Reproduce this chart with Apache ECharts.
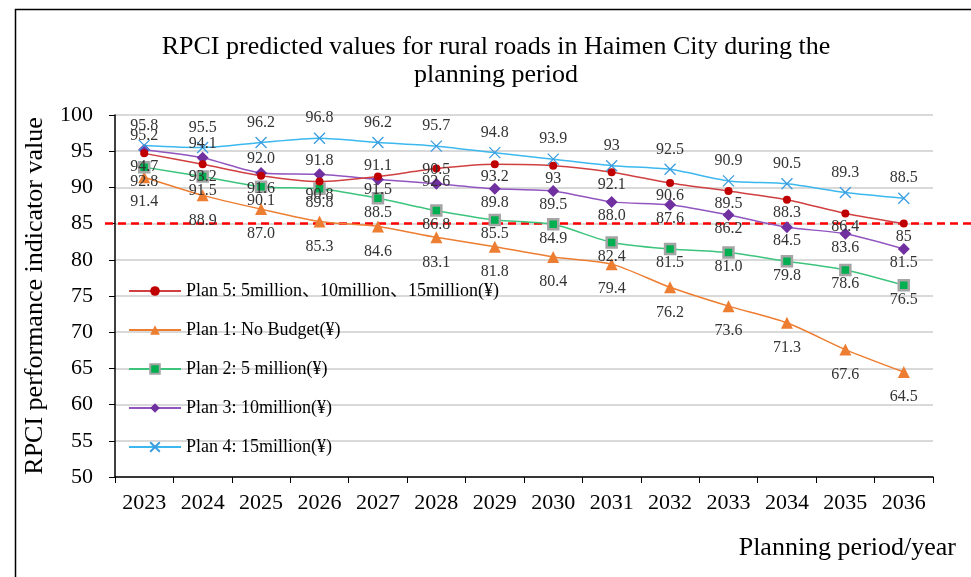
<!DOCTYPE html>
<html>
<head>
<meta charset="utf-8">
<script src="https://cdn.jsdelivr.net/npm/echarts@6/dist/echarts.min.js"></script>
<style>
  html, body { margin: 0; padding: 0; background: #fff; }
  #main { width: 971px; height: 577px; }
</style>
</head>
<body>
<div id="main"></div>
<script>
const years = ['2023', '2024', '2025', '2026', '2027', '2028', '2029', '2030', '2031', '2032', '2033', '2034', '2035', '2036'];
const plan5 = [94.7, 93.2, 91.6, 90.8, 91.5, 92.6, 93.2, 93, 92.1, 90.6, 89.5, 88.3, 86.4, 85];
const plan1 = [91.4, 88.9, 87.0, 85.3, 84.6, 83.1, 81.8, 80.4, 79.4, 76.2, 73.6, 71.3, 67.6, 64.5];
const plan2 = [92.8, 91.5, 90.1, 89.8, 88.5, 86.8, 85.5, 84.9, 82.4, 81.5, 81.0, 79.8, 78.6, 76.5];
const plan3 = [95.2, 94.1, 92.0, 91.8, 91.1, 90.5, 89.8, 89.5, 88.0, 87.6, 86.2, 84.5, 83.6, 81.5];
const plan4 = [95.8, 95.5, 96.2, 96.8, 96.2, 95.7, 94.8, 93.9, 93, 92.5, 90.9, 90.5, 89.3, 88.5];
const threshold = 85;
const yTicks = [50, 100, 5];

const serif = '"Liberation Serif", "DejaVu Serif", serif';
const serifCjk = '"Liberation Serif", "Noto Sans CJK SC", serif';
const chart = echarts.init(document.getElementById('main'));

// plans 1-3 were labelled with a fixed decimal, plans 4 and 5 as plain numbers
const fixed1 = (p) => Number(p.value).toFixed(1);
const plain = (p) => String(p.value);

const labelStyle = (position, distance, formatter) => ({
    show: true,
    position: position,
    distance: distance,
    formatter: formatter,
    fontFamily: serif,
    fontSize: 16,
    color: '#333'
});

const lineSeries = (name, data, color, symbol, size, label, extra) => Object.assign({
    name: name,
    type: 'line',
    data: data,
    smooth: 0.25,
    symbol: symbol,
    symbolSize: size,
    lineStyle: { color: color, width: 1.5 },
    itemStyle: { color: color },
    label: label,
    labelLayout: { hideOverlap: false }
}, extra || {});

const option = {
    animation: false,
    title: [
        {
            text: 'RPCI predicted values for rural roads in Haimen City during the\nplanning period',
            left: 491,
            textAlign: 'center',
            top: 28,
            textStyle: { fontFamily: serif, fontSize: 26, fontWeight: 'normal', color: '#000', lineHeight: 28 }
        },
        {
            text: 'Planning period/year',
            right: 10,
            top: 530,
            textStyle: { fontFamily: serif, fontSize: 26, fontWeight: 'normal', color: '#000' }
        }
    ],
    graphic: [
        {
            type: 'rect',
            left: 13, top: 7,
            shape: { width: 1000, height: 600 },
            style: { fill: 'none', stroke: '#000', lineWidth: 1.5 },
            silent: true
        }
    ],
    legend: {
        orient: 'vertical',
        left: 123,
        top: 277,
        itemWidth: 52,
        itemHeight: 12,
        itemGap: 21,
        data: ['Plan 5: 5million、10million、15million(¥)', 'Plan 1: No Budget(¥)', 'Plan 2: 5 million(¥)', 'Plan 3: 10million(¥)', 'Plan 4: 15million(¥)'],
        textStyle: { fontFamily: serifCjk, fontSize: 18, color: '#000' }
    },
    grid: [
        { left: 115, right: 38, top: 115, bottom: 100 },
        { left: 105, right: 0, top: 115, bottom: 100 }
    ],
    xAxis: [
        {
            type: 'category',
            data: years,
            boundaryGap: true,
            axisLine: { lineStyle: { color: '#000', width: 1.5 } },
            axisTick: { show: true, length: 6, lineStyle: { color: '#000' } },
            axisLabel: { fontFamily: serif, fontSize: 22, color: '#000', margin: 15 }
        },
        { gridIndex: 1, type: 'value', min: 0, max: 1, show: false }
    ],
    yAxis: [
        {
            type: 'value',
            min: yTicks[0],
            max: yTicks[1],
            interval: yTicks[2],
            name: 'RPCI performance indicator value',
            nameLocation: 'middle',
            nameGap: 67,
            nameTextStyle: { fontFamily: serif, fontSize: 26, color: '#000' },
            axisLine: { show: true, lineStyle: { color: '#000', width: 1.5 } },
            axisTick: { show: true, length: 6, lineStyle: { color: '#000' } },
            axisLabel: { fontFamily: serif, fontSize: 22, color: '#000', margin: 22 },
            splitLine: { lineStyle: { color: '#d9d9d9', width: 2 } }
        },
        { gridIndex: 1, type: 'value', min: yTicks[0], max: yTicks[1], show: false }
    ],
    series: [
        {
            name: 'threshold',
            type: 'line',
            xAxisIndex: 1,
            yAxisIndex: 1,
            data: [[0, threshold], [1, threshold]],
            symbol: 'none',
            silent: true,
            z: 1,
            lineStyle: { color: '#ff0000', width: 2.5, type: [8, 5] }
        },
        lineSeries('Plan 1: No Budget(¥)', plan1, '#ed7d31', 'triangle', 12, labelStyle('bottom', 11, fixed1)),
        lineSeries('Plan 2: 5 million(¥)', plan2, '#2ec27e', 'rect', 10, labelStyle('bottom', 0, fixed1), {
            itemStyle: { color: '#00b050', borderColor: '#a5a5a5', borderWidth: 2.5 },
            lineStyle: { color: '#3cc47c', width: 1.5 }
        }),
        lineSeries('Plan 3: 10million(¥)', plan3.map((v, i) => ({
            value: v,
            label: { position: i < 6 ? 'top' : 'bottom' }
        })), '#7030a0', 'diamond', 12, labelStyle('top', 0, fixed1), {
            lineStyle: { color: '#9155c0', width: 1.5 }
        }),
        lineSeries('Plan 4: 15million(¥)', plan4, '#3cb8ef', 'path://M0,0L10,10M10,0L0,10', 11, labelStyle('top', 4, plain), {
            itemStyle: { color: 'none', borderColor: '#3c9ce0', borderWidth: 1.3 }
        }),
        lineSeries('Plan 5: 5million、10million、15million(¥)', plan5, '#c00000', 'circle', 8, labelStyle('bottom', 1, plain), {
            lineStyle: { color: '#d04040', width: 1.5 }
        })
    ]
};

chart.setOption(option);
</script>
</body>
</html>
